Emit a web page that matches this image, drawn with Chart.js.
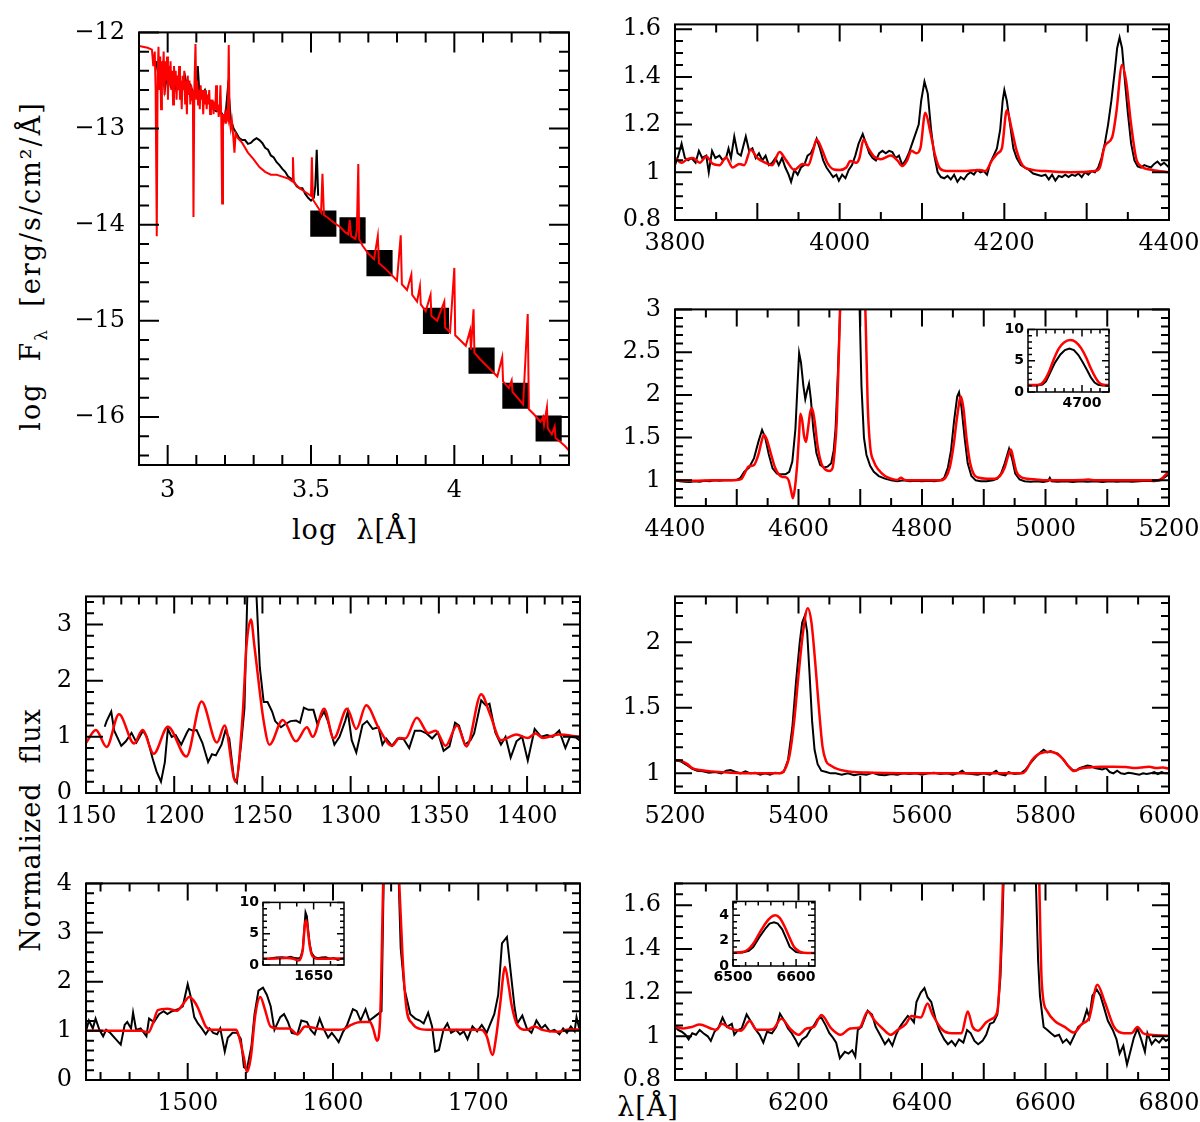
<!DOCTYPE html>
<html>
<head>
<meta charset="utf-8">
<script src="https://cdn.jsdelivr.net/npm/chart.js@4.4.1/dist/chart.umd.min.js"></script>
<style>
  body { margin: 0; background: #fff; width: 1200px; height: 1122px; position: relative; overflow: hidden; font-family: "DejaVu Serif", serif; }
  canvas { position: absolute; }
  .lab { position: absolute; font-size: 27px; white-space: nowrap; color: #000; letter-spacing: 1px; transform: translate(-50%, -50%); }
  .rot { transform: translate(-50%, -50%) rotate(-90deg); }
  .lab sub { font-size: 17px; }
</style>
</head>
<body>
<div class="lab rot" style="left:33px;top:266px;letter-spacing:2px">log&nbsp; F<sub>λ</sub> &nbsp;[erg/s/cm²/Å]</div>
<div class="lab" style="left:355px;top:529px">log&nbsp; λ[Å]</div>
<div class="lab rot" style="left:30px;top:830px">Normalized&nbsp; flux</div>
<div class="lab" style="left:648px;top:1106px">λ[Å]</div>

<script>
// ---- SED panel (log lambda vs log F) ----
const sedModel = [[2.9,-12.14],[2.93,-12.16],[2.945,-12.18],[2.95,-12.35],[2.955,-12.2],[2.958,-12.6],[2.962,-14.12],[2.965,-12.45],[2.968,-12.15],[2.971,-12.6],[2.974,-12.25],[2.977,-12.8],[2.98,-12.3],[2.983,-12.55],[2.986,-12.2],[2.989,-12.65],[2.992,-12.3],[2.995,-12.5],[2.998,-12.25],[3.001,-12.7],[3.004,-12.35],[3.007,-12.55],[3.01,-12.3],[3.013,-12.6],[3.016,-12.4],[3.019,-12.75],[3.022,-12.35],[3.025,-12.55],[3.028,-12.4],[3.031,-12.7],[3.034,-12.45],[3.037,-12.6],[3.04,-12.35],[3.043,-12.7],[3.046,-12.5],[3.049,-12.8],[3.052,-12.45],[3.055,-12.6],[3.058,-12.4],[3.061,-12.75],[3.064,-12.5],[3.067,-12.85],[3.07,-12.45],[3.073,-12.65],[3.076,-12.5],[3.079,-12.75],[3.082,-12.55],[3.085,-12.7],[3.088,-12.6],[3.09,-13.92],[3.093,-12.6],[3.097,-12.12],[3.1,-12.7],[3.103,-12.5],[3.106,-12.75],[3.109,-12.6],[3.112,-12.8],[3.115,-12.55],[3.118,-12.7],[3.121,-12.6],[3.124,-12.85],[3.127,-12.6],[3.13,-12.75],[3.133,-12.6],[3.136,-12.8],[3.139,-12.65],[3.142,-12.75],[3.145,-12.6],[3.148,-12.85],[3.151,-12.7],[3.154,-12.8],[3.157,-12.7],[3.16,-12.85],[3.163,-12.72],[3.166,-12.8],[3.169,-12.55],[3.172,-12.82],[3.175,-12.75],[3.178,-12.88],[3.181,-12.8],[3.184,-12.55],[3.187,-12.9],[3.19,-13.78],[3.193,-12.85],[3.196,-12.92],[3.2,-12.85],[3.203,-12.95],[3.206,-12.85],[3.21,-12.9],[3.213,-12.13],[3.216,-12.9],[3.22,-13.0],[3.224,-12.92],[3.228,-13.05],[3.233,-13.25],[3.237,-13.05],[3.245,-13.1],[3.26,-13.15],[3.28,-13.25],[3.3,-13.32],[3.32,-13.4],[3.34,-13.45],[3.36,-13.48],[3.38,-13.48],[3.4,-13.5],[3.42,-13.52],[3.435,-13.55],[3.437,-13.3],[3.44,-13.56],[3.46,-13.62],[3.48,-13.66],[3.5,-13.7],[3.503,-13.3],[3.507,-13.74],[3.52,-13.8],[3.535,-13.87],[3.54,-13.47],[3.545,-13.9],[3.56,-13.93],[3.58,-13.98],[3.6,-14.02],[3.62,-14.08],[3.63,-14.1],[3.635,-13.95],[3.64,-14.12],[3.655,-14.15],[3.66,-14.05],[3.665,-13.37],[3.668,-14.15],[3.68,-14.22],[3.7,-14.3],[3.72,-14.36],[3.733,-14.12],[3.737,-14.4],[3.76,-14.46],[3.78,-14.52],[3.8,-14.58],[3.813,-14.11],[3.817,-14.62],[3.835,-14.68],[3.85,-14.52],[3.853,-14.73],[3.87,-14.8],[3.88,-14.64],[3.883,-14.83],[3.9,-14.9],[3.917,-14.73],[3.92,-14.95],[3.94,-15.0],[3.965,-14.8],[3.968,-15.07],[3.985,-15.12],[4.0,-14.45],[4.003,-15.15],[4.02,-15.2],[4.04,-15.26],[4.055,-15.1],[4.058,-15.3],[4.067,-14.88],[4.07,-15.33],[4.09,-15.4],[4.11,-15.46],[4.13,-15.52],[4.15,-15.58],[4.167,-15.38],[4.17,-15.63],[4.19,-15.7],[4.2,-15.62],[4.203,-15.74],[4.22,-15.8],[4.24,-15.87],[4.256,-14.93],[4.26,-15.92],[4.28,-15.98],[4.3,-16.05],[4.31,-16.0],[4.313,-16.08],[4.323,-15.9],[4.326,-16.12],[4.34,-16.18],[4.35,-16.1],[4.353,-16.22],[4.37,-16.26],[4.385,-16.3],[4.4,-16.35]];
const sedObs = [[2.96,-12.3],[2.97,-12.5],[2.98,-12.35],[2.99,-12.6],[3.0,-12.4],[3.01,-12.55],[3.02,-12.45],[3.03,-12.6],[3.04,-12.5],[3.05,-12.55],[3.06,-12.45],[3.07,-12.6],[3.08,-12.55],[3.09,-12.65],[3.1,-12.55],[3.105,-12.35],[3.11,-12.6],[3.12,-12.65],[3.13,-12.6],[3.14,-12.7],[3.15,-12.75],[3.16,-12.8],[3.17,-12.82],[3.18,-12.8],[3.19,-12.85],[3.2,-12.9],[3.205,-12.75],[3.21,-12.58],[3.215,-12.7],[3.22,-12.9],[3.225,-12.95],[3.23,-13.0],[3.24,-13.05],[3.25,-13.1],[3.26,-13.12],[3.27,-13.12],[3.28,-13.16],[3.29,-13.15],[3.3,-13.12],[3.31,-13.1],[3.32,-13.12],[3.33,-13.15],[3.34,-13.2],[3.35,-13.22],[3.36,-13.28],[3.37,-13.3],[3.38,-13.35],[3.39,-13.38],[3.4,-13.42],[3.41,-13.45],[3.42,-13.5],[3.43,-13.52],[3.44,-13.55],[3.45,-13.6],[3.46,-13.62],[3.47,-13.62],[3.48,-13.68],[3.49,-13.72],[3.5,-13.75],[3.51,-13.72],[3.515,-13.6],[3.52,-13.22],[3.525,-13.7]];
const sedPhot = [[3.543,-13.99],[3.645,-14.06],[3.739,-14.4],[3.936,-15.0],[4.095,-15.415],[4.213,-15.78],[4.329,-16.12]];

// ---- optical / UV normalized spectra: [wavelength, flux] ----
const bObs = [[3800,1.03],[3804,1.07],[3808,1.12],[3812,1.06],[3816,1.05],[3820,1.06],[3825,1.04],[3829,1.09],[3833,1.06],[3838,1.07],[3841,1.0],[3845,1.09],[3849,1.06],[3854,1.07],[3858,1.05],[3862,1.06],[3865,1.1],[3868,1.06],[3872,1.15],[3876,1.08],[3880,1.07],[3883,1.11],[3886,1.15],[3890,1.09],[3894,1.1],[3898,1.06],[3902,1.08],[3906,1.05],[3910,1.07],[3914,1.03],[3918,1.04],[3922,1.06],[3926,1.03],[3930,1.06],[3934,1.02],[3938,0.99],[3941,0.96],[3945,1.01],[3949,0.99],[3953,1.02],[3957,1.03],[3961,1.07],[3965,1.08],[3969,1.11],[3972,1.14],[3976,1.1],[3980,1.05],[3984,1.02],[3988,1.0],[3992,0.98],[3996,0.99],[3999,0.965],[4003,0.99],[4007,0.975],[4011,1.01],[4015,1.03],[4019,1.07],[4023,1.12],[4028,1.16],[4032,1.12],[4036,1.08],[4040,1.06],[4044,1.05],[4048,1.08],[4052,1.09],[4056,1.08],[4060,1.09],[4064,1.085],[4068,1.06],[4072,1.07],[4076,1.03],[4080,1.05],[4084,1.08],[4088,1.12],[4092,1.16],[4096,1.2],[4099,1.3],[4103,1.38],[4107,1.33],[4111,1.18],[4115,1.07],[4119,1.0],[4123,0.98],[4127,0.975],[4131,0.985],[4135,0.97],[4139,0.99],[4143,0.96],[4147,0.98],[4151,0.97],[4155,0.99],[4159,1.0],[4163,0.99],[4167,1.01],[4171,1.0],[4175,1.005],[4179,0.99],[4183,1.04],[4187,1.07],[4191,1.1],[4195,1.18],[4198,1.3],[4200,1.345],[4203,1.3],[4207,1.2],[4211,1.1],[4215,1.06],[4220,1.03],[4225,1.02],[4230,1.01],[4235,0.995],[4240,0.99],[4245,0.985],[4250,0.99],[4254,0.97],[4258,0.99],[4262,0.965],[4266,0.985],[4270,0.98],[4274,0.99],[4278,0.98],[4282,0.99],[4286,0.985],[4290,0.995],[4294,0.98],[4298,1.0],[4302,0.99],[4306,1.005],[4310,1.0],[4314,1.02],[4318,1.06],[4322,1.12],[4326,1.2],[4330,1.3],[4334,1.42],[4337,1.52],[4340,1.565],[4343,1.52],[4346,1.4],[4350,1.25],[4354,1.12],[4358,1.05],[4362,1.025],[4366,1.02],[4370,1.03],[4374,1.025],[4378,1.02],[4382,1.035],[4386,1.045],[4390,1.03],[4394,1.04],[4397,1.03],[4400,1.02]];
const bModel = [[3800,1.06],[3808,1.04],[3815,1.055],[3822,1.06],[3830,1.04],[3838,1.066],[3846,1.035],[3854,1.03],[3862,1.062],[3870,1.02],[3878,1.035],[3884,1.03],[3892,1.095],[3900,1.06],[3910,1.04],[3918,1.03],[3927,1.085],[3935,1.05],[3945,1.01],[3955,1.035],[3962,1.03],[3967,1.08],[3972,1.137],[3978,1.1],[3985,1.04],[3993,1.012],[4000,1.01],[4008,1.02],[4013,1.047],[4020,1.04],[4024,1.06],[4029,1.137],[4035,1.1],[4042,1.065],[4050,1.055],[4062,1.07],[4070,1.05],[4076,1.026],[4082,1.05],[4087,1.09],[4093,1.08],[4098,1.1],[4104,1.25],[4110,1.17],[4116,1.07],[4122,1.015],[4130,1.005],[4150,1.005],[4170,1.01],[4177,1.005],[4185,1.05],[4192,1.08],[4197,1.1],[4203,1.26],[4209,1.18],[4215,1.09],[4222,1.03],[4232,1.012],[4250,1.005],[4280,1.0],[4310,1.005],[4316,1.02],[4322,1.11],[4331,1.147],[4336,1.25],[4343,1.45],[4348,1.38],[4354,1.2],[4360,1.06],[4366,1.025],[4380,1.01],[4400,1.0]];

const cObs = [[4400,1.0],[4408,0.99],[4416,0.985],[4424,0.98],[4432,0.99],[4440,0.985],[4448,0.995],[4456,0.99],[4464,1.0],[4472,0.995],[4480,1.0],[4490,1.0],[4500,1.005],[4506,1.03],[4512,1.1],[4520,1.15],[4528,1.26],[4535,1.45],[4541,1.59],[4546,1.5],[4552,1.3],[4558,1.14],[4565,1.08],[4572,1.07],[4579,1.07],[4585,1.1],[4590,1.22],[4595,1.6],[4599,2.2],[4601,2.49],[4604,2.38],[4608,2.1],[4611,1.95],[4614,2.05],[4617,2.13],[4620,1.95],[4624,1.6],[4629,1.32],[4635,1.18],[4641,1.15],[4647,1.16],[4653,1.2],[4657,1.35],[4660,1.6],[4664,2.3],[4668,3.1],[4676,5.5],[4685,7.0],[4693,5.5],[4699,3.0],[4702,2.1],[4706,1.5],[4710,1.3],[4716,1.17],[4722,1.1],[4730,1.05],[4740,1.02],[4750,1.0],[4760,0.99],[4770,1.0],[4780,0.99],[4790,0.995],[4800,0.99],[4810,0.995],[4820,0.99],[4830,1.0],[4836,1.03],[4842,1.15],[4847,1.35],[4852,1.7],[4857,1.98],[4860,2.03],[4864,1.85],[4869,1.5],[4874,1.2],[4880,1.05],[4887,1.0],[4895,0.99],[4905,0.99],[4915,1.0],[4922,1.02],[4928,1.08],[4934,1.2],[4941,1.37],[4946,1.25],[4951,1.08],[4958,1.01],[4966,0.99],[4976,0.985],[4986,0.99],[4996,0.98],[5004,0.99],[5007,1.03],[5010,0.99],[5020,0.985],[5032,0.99],[5044,0.98],[5056,0.99],[5068,0.985],[5080,0.99],[5092,0.98],[5104,0.99],[5116,0.985],[5128,0.99],[5140,0.985],[5152,0.99],[5164,0.995],[5176,0.99],[5186,1.0],[5192,1.03],[5200,1.07]];
const cModel = [[4400,1.0],[4430,0.995],[4460,1.0],[4500,1.005],[4508,1.02],[4514,1.1],[4519,1.16],[4528,1.18],[4535,1.3],[4540,1.45],[4544,1.535],[4549,1.47],[4555,1.32],[4562,1.15],[4568,1.07],[4574,1.04],[4580,1.035],[4584,1.0],[4588,0.88],[4591,0.79],[4594,0.9],[4598,1.2],[4601,1.55],[4603,1.78],[4606,1.7],[4609,1.52],[4612,1.45],[4615,1.58],[4619,1.8],[4622,1.845],[4626,1.7],[4631,1.4],[4637,1.2],[4643,1.13],[4650,1.11],[4655,1.14],[4658,1.3],[4662,1.7],[4665,2.4],[4668,3.2],[4676,6.0],[4688,8.2],[4700,5.5],[4706,3.6],[4709,2.8],[4712,1.9],[4716,1.4],[4722,1.22],[4730,1.12],[4740,1.05],[4750,1.02],[4760,1.005],[4766,1.03],[4772,1.005],[4790,1.0],[4810,1.0],[4830,1.0],[4838,1.03],[4845,1.15],[4851,1.4],[4857,1.75],[4863,1.98],[4867,1.85],[4872,1.5],[4878,1.2],[4884,1.07],[4892,1.03],[4905,1.02],[4918,1.02],[4926,1.05],[4934,1.15],[4940,1.3],[4944,1.36],[4948,1.25],[4953,1.1],[4960,1.04],[4970,1.02],[4985,1.01],[5000,1.0],[5030,1.0],[5060,1.005],[5070,1.01],[5080,1.0],[5120,1.0],[5160,1.0],[5182,1.0],[5190,1.03],[5195,1.07],[5200,1.1]];
const icObs = [[4640,1.02],[4650,1.03],[4656,1.2],[4660,1.7],[4664,2.9],[4670,4.7],[4676,6.0],[4681,6.7],[4686,6.95],[4691,6.7],[4696,5.9],[4701,4.7],[4706,3.4],[4710,2.3],[4714,1.5],[4718,1.15],[4723,1.02],[4730,1.0]];
const icModel = [[4640,1.1],[4650,1.12],[4655,1.3],[4659,2.0],[4663,3.1],[4668,5.0],[4674,6.9],[4680,7.9],[4687,8.3],[4693,8.0],[4699,7.0],[4705,5.4],[4710,3.7],[4715,2.3],[4719,1.5],[4724,1.15],[4730,1.1]];

const dObs = [[1160.6,1.18],[1161.7,1.28],[1164.3,1.45],[1166,1.11],[1170,0.84],[1172.6,0.92],[1175.8,1.07],[1178.6,0.9],[1182.3,1.11],[1184.5,1.0],[1187.8,0.61],[1190,0.38],[1192.5,0.2],[1194.7,0.55],[1196.4,1.14],[1198.6,1.0],[1200.8,1.03],[1204,0.86],[1207.3,1.08],[1208.4,1.14],[1210.5,1.11],[1212.7,1.12],[1216,0.89],[1219.2,0.55],[1221.4,0.69],[1223.6,0.67],[1226.8,0.86],[1229,1.11],[1231.2,0.97],[1233.8,0.27],[1235.5,0.19],[1238,0.9],[1239.8,1.5],[1241.5,3.6],[1243.5,4.8],[1246.5,3.6],[1248.5,2.24],[1250.7,1.62],[1252.9,1.62],[1255.5,1.45],[1257.2,1.28],[1260.5,1.17],[1262.6,1.22],[1265.9,1.28],[1269.1,1.29],[1271.3,1.25],[1273.5,1.52],[1276,1.48],[1278.9,1.48],[1281,1.24],[1285,1.45],[1287.1,1.28],[1290.8,0.86],[1293.7,1.0],[1296.9,1.28],[1298.4,1.45],[1300.6,0.94],[1303.2,0.72],[1306.7,1.21],[1309.3,1.28],[1312.5,1.14],[1315.8,1.17],[1318,0.86],[1320.1,0.97],[1323.4,0.84],[1326.6,0.97],[1330,0.96],[1333.2,0.8],[1336.4,1.11],[1339.7,1.11],[1343,1.06],[1346.2,0.97],[1349.4,1.08],[1352.7,0.75],[1356,0.83],[1359.2,1.25],[1361.4,1.2],[1364.7,0.86],[1368,0.94],[1370,1.06],[1374,1.65],[1376.6,1.56],[1378.7,1.59],[1382,1.08],[1385.2,0.86],[1387.8,1.0],[1390.7,0.63],[1394,0.92],[1397.2,1.0],[1400.4,0.58],[1404.3,1.14],[1408,1.0],[1411.3,1.03],[1414.5,1.0],[1418.2,1.11],[1421.7,0.8],[1424.3,1.0],[1427.6,0.99],[1429.7,0.94]];
const dModel = [[1150,0.89],[1155.6,1.12],[1161.7,0.82],[1168.7,1.4],[1177.3,0.88],[1182,1.12],[1188.4,0.7],[1196.4,1.18],[1206.9,0.65],[1215.5,1.63],[1224.2,0.9],[1228.6,1.2],[1234.8,0.2],[1238.8,1.39],[1241,2.63],[1243.5,3.09],[1245.4,2.63],[1250.7,1.28],[1254,0.86],[1261.5,1.3],[1269,0.92],[1275.2,1.17],[1278.5,1.0],[1285,1.5],[1290.4,0.97],[1298,1.5],[1303.2,1.14],[1308.8,1.56],[1316,1.15],[1323.4,0.84],[1327.7,0.98],[1331,0.97],[1337.5,1.34],[1344,1.07],[1348.3,1.11],[1353.8,0.84],[1360.3,1.2],[1365.7,0.83],[1374,1.76],[1379,1.4],[1385.2,0.94],[1394,1.04],[1400.4,0.98],[1404.8,1.06],[1409,0.98],[1417.8,1.04],[1430,1.0]];

const eObs = [[1429.7,0.96],[1432,1.21],[1434.7,1.05],[1436.6,1.25],[1439.2,1.02],[1441.8,0.89],[1443.9,1.02],[1446.6,0.96],[1450.5,0.83],[1453.9,0.72],[1456.6,1.12],[1458.4,1.18],[1461,1.05],[1462.4,1.37],[1464.5,1.02],[1467.6,1.05],[1471.6,0.89],[1473.4,1.25],[1476.8,1.18],[1480.3,1.34],[1483.4,1.4],[1486,1.34],[1489.2,1.4],[1493.4,1.44],[1496.6,1.5],[1500,1.95],[1501.8,1.73],[1504.5,1.28],[1507,1.15],[1509.7,1.05],[1512.4,0.93],[1515,1.05],[1517.6,0.96],[1520.3,0.93],[1522.4,1.05],[1525.5,0.58],[1527.6,0.86],[1530.8,0.96],[1533.9,0.96],[1536.6,0.83],[1538.7,0.26],[1540.8,0.22],[1543.9,0.7],[1546,1.34],[1548.7,1.82],[1551.8,1.88],[1554.5,1.73],[1557.1,1.5],[1559.7,1.02],[1563.7,1.28],[1566.3,1.34],[1569,1.18],[1571.6,0.96],[1575.5,0.93],[1578.2,1.21],[1582.1,1.18],[1584.7,1.02],[1587.4,0.93],[1590.8,1.25],[1593.4,1.05],[1596.6,0.86],[1599.2,0.96],[1601.8,0.86],[1603.9,0.77],[1606.6,0.96],[1609.7,1.12],[1613.7,1.44],[1616.3,1.4],[1619,1.21],[1622.4,1.44],[1625,1.21],[1628.2,1.28],[1631.3,1.35],[1633.4,1.4],[1635,4.3],[1638,7.5],[1640,8.4],[1642,7.4],[1644.5,4.8],[1646.6,2.68],[1649.2,1.85],[1653.2,1.34],[1656.6,1.25],[1659.7,1.21],[1662.4,1.15],[1665.5,1.37],[1668.2,1.09],[1670.3,0.58],[1672.9,0.61],[1676,1.02],[1678.7,1.15],[1681.3,0.96],[1684.7,1.02],[1687.4,0.93],[1690,0.99],[1692.6,0.83],[1696,1.09],[1699.2,0.99],[1702.4,1.12],[1705.8,0.96],[1708.4,1.15],[1711,1.34],[1713.7,1.73],[1716.3,2.78],[1719.7,2.91],[1722.4,2.17],[1725,1.47],[1726.8,1.15],[1730.3,1.31],[1733.4,1.05],[1736.6,0.96],[1740,1.21],[1743.4,1.05],[1746,1.12],[1749.2,0.99],[1752.4,1.02],[1755.8,0.93],[1758.4,1.05],[1761,0.96],[1763.7,1.09],[1766.3,0.99],[1767.6,1.28],[1769.5,1.05]];
const eModel = [[1430,1.0],[1450,1.0],[1468,1.0],[1473,0.97],[1476,1.15],[1479.5,1.42],[1486,1.45],[1492.6,1.41],[1497,1.55],[1501,1.69],[1504,1.62],[1507,1.47],[1510,1.25],[1512.4,1.09],[1517.6,1.02],[1525,1.02],[1533.4,1.02],[1535.5,0.86],[1538.7,0.45],[1540.8,0.16],[1543.4,0.45],[1546.6,1.34],[1550,1.69],[1553,1.45],[1557,1.09],[1562.4,1.05],[1570,1.05],[1575.5,0.93],[1580.8,1.09],[1588.7,1.05],[1599.2,1.02],[1607,1.03],[1612.4,1.12],[1619,1.18],[1625.5,1.18],[1627.6,1.05],[1630.3,0.8],[1632.5,1.3],[1634.7,4.2],[1637,6.2],[1640,7.0],[1643,6.3],[1645.3,4.2],[1647.9,2.49],[1650.5,1.47],[1654.5,1.15],[1659.7,1.04],[1667.6,1.02],[1686,1.02],[1701.8,1.02],[1705.8,0.89],[1709.7,0.51],[1712.4,0.9],[1715,1.53],[1718.4,2.3],[1721,1.9],[1722.9,1.53],[1726.8,1.12],[1733.4,1.02],[1738.7,1.09],[1744,1.02],[1755,0.98],[1762.4,1.03],[1770,1.03]];
const ieObs = [[1575,1.0],[1585,1.05],[1595,1.2],[1603,1.25],[1610,1.15],[1616,1.3],[1622,1.1],[1628,1.05],[1631,1.3],[1634,2.5],[1636,5.5],[1638,8.4],[1640,7.8],[1642,5.5],[1644,3.5],[1647,1.9],[1651,1.3],[1656,1.1],[1662,1.2],[1668,1.25],[1674,1.0],[1680,1.1],[1686,0.8],[1690,1.0],[1695,1.1]];
const ieModel = [[1575,1.0],[1595,1.05],[1610,1.1],[1620,1.0],[1628,0.7],[1631,1.1],[1634,2.5],[1636,5.2],[1638,7.1],[1640,6.8],[1642,5.0],[1644,3.2],[1647,1.7],[1651,1.15],[1656,1.0],[1670,1.0],[1685,1.05],[1695,1.05]];

const fObs = [[5200,1.1],[5210,1.09],[5220,1.06],[5228,1.035],[5236,1.02],[5245,1.015],[5255,1.005],[5265,1.01],[5275,1.0],[5283,1.02],[5290,1.025],[5298,1.01],[5306,1.0],[5314,1.015],[5322,1.0],[5330,1.005],[5338,0.99],[5346,1.0],[5354,0.99],[5362,1.005],[5370,1.0],[5376,1.01],[5383,1.1],[5390,1.35],[5396,1.7],[5402,2.0],[5406,2.15],[5410,2.2],[5414,2.08],[5418,1.75],[5422,1.4],[5426,1.18],[5431,1.07],[5437,1.02],[5445,1.01],[5452,1.0],[5460,1.0],[5470,0.99],[5480,1.0],[5490,0.985],[5500,0.995],[5510,0.99],[5520,1.005],[5530,0.99],[5540,0.985],[5550,0.995],[5560,0.99],[5570,1.0],[5580,0.995],[5590,1.0],[5600,0.99],[5610,1.0],[5620,1.005],[5630,0.995],[5640,1.0],[5650,0.99],[5660,1.005],[5665,1.02],[5670,1.0],[5680,0.995],[5690,0.99],[5700,1.0],[5710,0.99],[5720,1.02],[5725,0.995],[5735,0.985],[5740,1.01],[5750,0.995],[5760,1.0],[5768,1.03],[5776,1.08],[5785,1.13],[5792,1.16],[5797,1.18],[5803,1.16],[5808,1.17],[5813,1.16],[5820,1.15],[5828,1.11],[5836,1.06],[5844,1.025],[5849,1.02],[5855,1.04],[5862,1.05],[5868,1.06],[5874,1.055],[5880,1.04],[5886,1.035],[5892,1.03],[5898,1.04],[5904,1.01],[5910,1.0],[5916,1.02],[5922,1.0],[5928,0.995],[5934,1.005],[5940,1.0],[5946,0.995],[5952,0.99],[5958,1.0],[5964,0.995],[5970,1.0],[5976,1.01],[5982,0.995],[5988,1.01],[5994,1.0],[6000,1.0]];
const fModel = [[5200,1.1],[5210,1.095],[5220,1.07],[5228,1.04],[5240,1.025],[5260,1.015],[5290,1.005],[5330,1.0],[5370,1.0],[5378,1.03],[5386,1.15],[5393,1.4],[5400,1.75],[5408,2.1],[5415,2.26],[5421,2.15],[5427,1.85],[5433,1.5],[5439,1.2],[5445,1.09],[5452,1.06],[5465,1.03],[5490,1.01],[5520,1.005],[5600,1.0],[5700,1.0],[5762,1.0],[5768,1.02],[5778,1.1],[5788,1.145],[5797,1.16],[5808,1.165],[5818,1.15],[5828,1.11],[5838,1.05],[5846,1.017],[5856,1.035],[5870,1.045],[5890,1.05],[5910,1.05],[5930,1.048],[5945,1.04],[5955,1.045],[5968,1.05],[5980,1.04],[5990,1.045],[6000,1.035]];

const gObs = [[6000,1.043],[6005,1.029],[6011,1.021],[6017,1.007],[6022,0.986],[6028,1.014],[6034,1.007],[6040,1.029],[6046,1.014],[6053,1.0],[6058,0.979],[6064,1.021],[6071,1.043],[6077,1.086],[6084,1.043],[6092,1.057],[6096,1.007],[6102,1.029],[6108,1.036],[6116,1.1],[6125,1.057],[6131,1.029],[6137,1.007],[6143,0.971],[6149,1.021],[6157,1.014],[6164,1.043],[6170,1.103],[6177,1.071],[6183,1.036],[6189,1.014],[6195,0.986],[6200,0.957],[6206,0.986],[6213,1.0],[6219,1.029],[6225,1.05],[6231,1.079],[6237,1.086],[6244,1.05],[6250,1.014],[6256,0.993],[6261,0.971],[6267,0.9],[6275,0.929],[6281,0.921],[6287,0.936],[6292,0.907],[6296,1.029],[6302,1.043],[6312,1.117],[6319,1.1],[6325,1.043],[6332,1.007],[6340,0.964],[6346,0.986],[6352,0.957],[6358,1.007],[6364,1.043],[6371,1.071],[6377,1.093],[6383,1.079],[6387,1.064],[6391,1.157],[6398,1.2],[6404,1.221],[6409,1.179],[6415,1.157],[6422,1.079],[6428,1.029],[6436,0.986],[6442,0.964],[6448,0.979],[6454,0.957],[6460,0.986],[6467,0.971],[6473,1.029],[6479,1.014],[6485,0.979],[6491,0.964],[6498,0.979],[6504,1.007],[6510,1.057],[6516,1.064],[6522,1.1],[6527,1.271],[6530,1.5],[6535,2.0],[6540,2.5],[6548,3.0],[6556,3.35],[6565,3.45],[6572,3.3],[6578,2.7],[6582,2.0],[6584,1.75],[6588,1.35],[6591,1.186],[6597,1.043],[6603,1.029],[6609,1.014],[6615,1.0],[6622,1.007],[6628,0.971],[6634,0.986],[6640,0.964],[6646,1.0],[6653,1.043],[6660,1.057],[6667,1.121],[6671,1.086],[6676,1.186],[6683,1.214],[6689,1.186],[6695,1.129],[6701,1.071],[6709,1.029],[6715,0.986],[6720,0.921],[6726,0.957],[6732,0.871],[6736,0.914],[6743,0.993],[6749,1.036],[6755,0.986],[6761,0.929],[6765,1.014],[6772,0.964],[6778,0.986],[6784,0.971],[6790,0.993],[6795,0.979],[6800,0.989]];
const gModel = [[6000,1.043],[6014,1.036],[6027,1.043],[6040,1.054],[6058,1.036],[6067,1.03],[6076,1.057],[6089,1.036],[6107,1.026],[6121,1.07],[6132,1.03],[6151,1.03],[6160,1.036],[6172,1.08],[6188,1.03],[6200,1.007],[6213,1.036],[6225,1.043],[6237,1.097],[6253,1.036],[6268,1.007],[6284,1.036],[6299,1.04],[6312,1.114],[6324,1.07],[6336,1.036],[6349,1.007],[6361,1.03],[6374,1.057],[6383,1.093],[6398,1.086],[6409,1.15],[6417,1.1],[6433,1.03],[6448,1.014],[6464,1.014],[6474,1.114],[6482,1.043],[6491,1.026],[6504,1.064],[6513,1.08],[6522,1.114],[6527,1.33],[6530,1.6],[6535,2.1],[6540,2.6],[6548,3.2],[6556,3.7],[6565,3.95],[6572,3.8],[6580,3.1],[6586,2.3],[6590,1.7],[6594,1.243],[6603,1.114],[6615,1.07],[6631,1.043],[6646,1.017],[6659,1.057],[6671,1.086],[6684,1.236],[6696,1.157],[6711,1.043],[6727,1.014],[6739,1.014],[6749,1.043],[6758,1.014],[6770,1.007],[6800,1.003]];
const igObs = [[6500,1.05],[6515,1.07],[6525,1.2],[6532,1.5],[6542,2.3],[6552,3.0],[6558,3.35],[6565,3.45],[6571,3.35],[6578,2.9],[6585,2.1],[6590,1.5],[6600,1.1],[6608,1.05],[6630,1.02]];
const igModel = [[6500,1.05],[6515,1.1],[6525,1.35],[6532,1.75],[6542,2.6],[6552,3.4],[6560,3.85],[6567,4.0],[6574,3.8],[6582,3.1],[6590,2.2],[6597,1.5],[6605,1.15],[6612,1.05],[6630,1.02]];

// ---- tick labels ----
const sedXTicks = [3, 3.5, 4], sedYTicks = [-16, -15, -14, -13, -12];
const bXTicks = [3800, 4000, 4200, 4400], bYTicks = [0.8, 1, 1.2, 1.4, 1.6];
const cXTicks = [4400, 4600, 4800, 5000, 5200], cYTicks = [1, 1.5, 2, 2.5, 3];
const dXTicks = [1150, 1200, 1250, 1300, 1350, 1400], dYTicks = [0, 1, 2, 3];
const eXTicks = [1500, 1600, 1700], eYTicks = [0, 1, 2, 3, 4];
const fXTicks = [5200, 5400, 5600, 5800, 6000], fYTicks = [1, 1.5, 2];
const gXTicks = [6200, 6400, 6600, 6800], gYTicks = [0.8, 1, 1.2, 1.4, 1.6];
const icXTicks = [4700], icYTicks = [0, 5, 10];
const ieXTicks = [1650], ieYTicks = [0, 5, 10];
const igXTicks = [6500, 6600], igYTicks = [0, 2, 4];

const RED = '#ff0000';
const fmt = v => (v < 0 ? '\u2212' + (-v) : String(v));
const onStep = (v, s) => Math.abs(v / s - Math.round(v / s)) < 1e-6;
const pts = arr => arr.map(([x, y]) => ({x, y}));

// inward ticks on all four sides + frame, SM style
const frameTicks = {
  id: 'frameTicks',
  beforeDatasetsDraw(chart, args, o) {
    if (!o.bg) return;
    const a = chart.chartArea;
    chart.ctx.save();
    chart.ctx.fillStyle = '#fff';
    chart.ctx.fillRect(a.left, a.top, a.width, a.height);
    chart.ctx.restore();
  },
  afterDatasetsDraw(chart, args, o) {
    const {ctx, chartArea: a, scales: {x, y}} = chart;
    const each = (s, step, major, fn) => {
      for (let k = Math.ceil(s.min / step - 1e-6); k * step <= s.max + 1e-6; k++) {
        const v = k * step;
        fn(s.getPixelForValue(v), onStep(v, major) ? o.big : o.small);
      }
    };
    ctx.save();
    ctx.strokeStyle = '#000';
    ctx.lineWidth = o.lw;
    ctx.beginPath();
    each(x, o.x[0], o.x[1], (p, l) => {
      ctx.moveTo(p, a.bottom); ctx.lineTo(p, a.bottom - l);
      ctx.moveTo(p, a.top); ctx.lineTo(p, a.top + l);
    });
    each(y, o.y[0], o.y[1], (p, l) => {
      ctx.moveTo(a.left, p); ctx.lineTo(a.left + l, p);
      ctx.moveTo(a.right, p); ctx.lineTo(a.right - l, p);
    });
    ctx.stroke();
    ctx.strokeRect(a.left, a.top, a.width, a.height);
    ctx.restore();
  }
};

function panel(box, xr, xl, yr, yl, steps, sets, inset, xpad) {
  const m = inset ? [36, 10, 26, 26] : [80, 16, 40, 50];
  const cv = document.createElement('canvas');
  cv.width = box[2] + m[0] + m[2];
  cv.height = box[3] + m[1] + m[3];
  cv.style.left = (box[0] - m[0]) + 'px';
  cv.style.top = (box[1] - m[1]) + 'px';
  document.body.appendChild(cv);
  const font = inset ? {family: 'DejaVu Sans', size: 14, weight: 'bold'} : {family: 'DejaVu Serif', size: 24};
  const axis = (r, labels, key, size, pad) => ({
    type: 'linear', min: r[0], max: r[1],
    grid: {display: false, drawTicks: false},
    border: {display: false},
    afterBuildTicks: s => { s.ticks = labels.map(v => ({value: v})); },
    afterFit: s => { s[key] = size; },
    ticks: {font, color: '#000', padding: pad, maxRotation: 0, autoSkip: false, callback: v => fmt(v)}
  });
  new Chart(cv, {
    type: 'line',
    data: {datasets: sets},
    options: {
      responsive: false, animation: false, events: [],
      layout: {padding: {top: m[1], right: m[2], left: 0, bottom: 0}},
      elements: {point: {radius: 0}, line: {tension: 0}},
      plugins: {
        legend: {display: false}, tooltip: {enabled: false},
        frameTicks: inset
          ? {x: steps[0], y: steps[1], big: 7, small: 4, lw: 1.5, bg: true}
          : {x: steps[0], y: steps[1], big: steps[2] || 17, small: steps[3] || 8, lw: 2}
      },
      scales: {
        x: axis(xr, xl, 'height', m[3], inset ? 3 : (xpad || 9)),
        y: axis(yr, yl, 'width', m[0], inset ? 4 : 14)
      }
    },
    plugins: [frameTicks]
  });
}

const model = (d, w) => ({data: pts(d), borderColor: RED, borderWidth: w || 2.5, cubicInterpolationMode: 'monotone'});
const obs = (d, w) => ({data: pts(d), borderColor: '#000', borderWidth: w || 2});

// SED
panel([139, 20, 430, 445], [2.9, 4.4], sedXTicks, [-16.5, -12], sedYTicks, [[0.1, 0.5], [0.2, 1], 20, 10], [
  {data: pts(sedModel), borderColor: RED, borderWidth: 2},
  {data: pts(sedObs), borderColor: '#000', borderWidth: 2},
  {type: 'scatter', data: pts(sedPhot), showLine: false, pointStyle: 'rect', pointRadius: 18.5, backgroundColor: '#000', borderWidth: 0}
], false, 11);

panel([675, 12, 494, 208], [3800, 4400], bXTicks, [0.8, 1.62], bYTicks, [[50, 100], [0.05, 0.2]], [model(bModel), obs(bObs)]);
panel([675, 297, 494, 209], [4400, 5200], cXTicks, [0.7, 3], cYTicks, [[50, 100], [0.1, 0.5]], [model(cModel), obs(cObs)]);
panel([86, 584, 494, 209], [1150, 1430], dXTicks, [0, 3.5], dYTicks, [[10, 50], [0.2, 1]], [model(dModel), obs(dObs)]);
panel([86, 871, 494, 209], [1430, 1770], eXTicks, [0, 4], eYTicks, [[20, 100], [0.2, 1]], [model(eModel), obs(eObs)]);
panel([675, 584, 494, 209], [5200, 6000], fXTicks, [0.85, 2.35], fYTicks, [[50, 100], [0.1, 0.5]], [model(fModel), obs(fObs)]);
panel([675, 871, 494, 209], [6000, 6800], gXTicks, [0.8, 1.7], gYTicks, [[50, 100], [0.05, 0.2]], [model(gModel), obs(gObs)]);

// insets
panel([1028, 327, 81, 65], [4640, 4730], icXTicks, [0, 10], icYTicks, [[10, 50], [1, 5]], [model(icModel, 2.5), obs(icObs, 2)], true);
panel([263, 900, 81, 65], [1575, 1695], ieXTicks, [0, 10], ieYTicks, [[25, 50], [1, 5]], [model(ieModel, 2.5), obs(ieObs, 2)], true);
panel([733, 899, 82, 67], [6500, 6630], igXTicks, [0, 5.1], igYTicks, [[20, 100], [0.5, 2]], [model(igModel, 2.5), obs(igObs, 2)], true);
</script>
</body>
</html>
